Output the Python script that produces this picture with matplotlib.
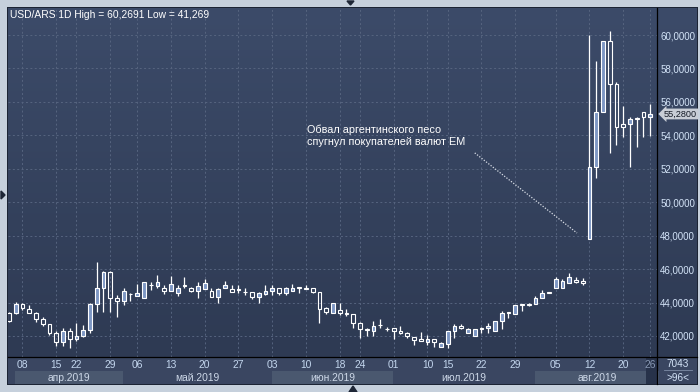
import numpy as np
import matplotlib
matplotlib.use("Agg")
import matplotlib.pyplot as plt
import matplotlib.transforms as mtransforms
from matplotlib.patches import Rectangle, Polygon
from matplotlib.colors import to_rgb

plt.rcParams['font.family'] = ['Liberation Sans', 'DejaVu Sans']

# ---------------- data (USD/ARS daily candles) ----------------
opens = [43.4, 43.4, 43.9, 43.6, 43.36, 43.0, 42.7, 42.16, 41.62, 42.3,
         41.8, 42.0, 42.36, 43.9, 44.9, 45.8, 44.3, 44.1, 44.52, 44.4,
         44.25, 45.05, 45.0, 44.85, 44.7, 44.55, 45.02, 44.85, 44.7, 44.8,
         44.7, 44.35, 44.85, 44.8, 44.8, 44.65, 44.65, 44.35, 44.5, 44.7,
         44.85, 44.6, 44.7, 44.9, 44.85, 44.85, 44.65, 43.65, 43.4, 43.55,
         43.36, 43.3, 42.76, 42.4, 42.32, 42.66, 42.42, 42.45, 42.32, 42.16,
         41.92, 41.8, 41.62, 41.8, 41.32, 41.52, 42.3, 42.62, 42.16, 42.0,
         42.44, 42.45, 42.3, 42.9, 43.4, 43.3, 43.9, 43.88, 43.9, 44.3,
         44.6, 44.85, 44.9, 45.15, 45.35, 45.3, 47.8, 52.1, 55.38, 59.64,
         57.05, 54.66, 54.66, 55.02, 55.38, 55.08]
highs = [43.45, 44.05, 44.0, 43.85, 43.45, 43.15, 42.72, 42.3, 42.45, 42.45,
         42.8, 42.65, 44.0, 46.45, 45.9, 45.9, 44.45, 44.9, 44.6, 45.1,
         45.2, 45.2, 45.65, 45.05, 45.6, 45.05, 45.5, 44.95, 45.2, 45.4,
         44.9, 44.9, 45.3, 45.05, 45.05, 44.85, 44.65, 44.65, 45.05, 45.05,
         44.9, 44.95, 45.1, 44.92, 45.05, 44.85, 44.65, 43.75, 43.95, 44.0,
         43.6, 43.3, 42.85, 42.5, 42.9, 43.0, 42.55, 42.45, 42.6, 42.25,
         41.92, 42.25, 42.05, 41.85, 41.66, 42.3, 42.7, 42.7, 42.5, 42.42,
         42.55, 42.75, 42.9, 43.5, 43.42, 43.85, 43.92, 43.98, 44.38, 44.75,
         44.6, 45.5, 45.4, 45.75, 45.55, 45.45, 60.0, 58.45, 59.64, 60.27,
         57.2, 55.75, 55.1, 55.1, 55.38, 55.85]
lows = [42.85, 43.3, 43.55, 43.35, 42.85, 42.6, 42.06, 41.4, 41.4, 41.28,
        41.7, 41.95, 42.16, 43.46, 43.46, 43.46, 43.15, 43.85, 44.1, 44.4,
        44.25, 44.75, 44.9, 44.5, 44.7, 44.4, 44.85, 44.65, 44.3, 44.8,
        44.35, 43.95, 44.85, 44.65, 44.6, 44.45, 44.2, 44.0, 44.45, 44.45,
        44.45, 44.45, 44.7, 44.6, 44.8, 44.55, 42.76, 43.3, 43.35, 43.25,
        43.2, 42.5, 41.9, 42.0, 42.0, 42.5, 42.3, 41.8, 42.1, 41.9,
        41.46, 41.7, 41.46, 41.36, 41.32, 41.27, 41.9, 42.4, 42.16, 42.0,
        42.16, 42.16, 42.3, 42.4, 43.05, 43.3, 43.5, 43.8, 43.9, 44.3,
        44.6, 44.85, 44.9, 45.15, 45.15, 45.05, 47.8, 51.47, 55.38, 52.96,
        53.42, 53.92, 52.09, 53.32, 53.92, 53.95]
closes = [42.9, 43.9, 43.65, 43.36, 43.0, 42.7, 42.16, 41.62, 42.3, 41.8,
          42.0, 42.36, 43.9, 44.9, 45.8, 44.3, 44.1, 44.7, 44.5, 44.6,
          45.2, 45.03, 45.2, 44.7, 45.1, 44.9, 45.0, 44.7, 45.0, 45.15,
          44.35, 44.8, 45.05, 44.65, 44.75, 44.63, 44.35, 44.55, 44.7, 44.85,
          44.6, 44.85, 44.9, 44.88, 44.83, 44.65, 43.6, 43.45, 43.95, 43.4,
          43.34, 42.76, 42.4, 42.38, 42.62, 42.64, 42.4, 42.3, 42.16, 42.0,
          41.76, 41.7, 41.8, 41.66, 41.56, 42.3, 42.62, 42.45, 42.4, 42.42,
          42.42, 42.62, 42.9, 43.4, 43.38, 43.85, 43.88, 43.86, 44.3, 44.6,
          44.6, 45.38, 45.3, 45.5, 45.25, 45.15, 52.1, 55.38, 59.64, 57.05,
          54.52, 54.52, 54.98, 55.0, 55.08, 55.28]

day_tick_idx = [2, 7, 10, 15, 19, 24, 29, 34, 39, 44, 49, 52, 57, 62, 65,
                70, 75, 81, 86, 91, 95]
day_labels = ['08', '15', '22', '29', '06', '13', '20', '27', '03', '10', '18',
              '24', '01', '10', '15', '22', '29', '05', '12', '20', '26']
month_labels = ['апр.2019', 'май.2019', 'июн.2019', 'июл.2019', 'авг.2019']
month_start = [0.9, 16.9, 38.9, 56.9, 77.9]
month_end = [16.9, 38.9, 56.9, 77.9, 96.3]
month_band = [True, False, True, False, True]
y_ticks = [42, 44, 46, 48, 50, 52, 54, 56, 58, 60]

title = 'USD/ARS 1D High = 60,2691 Low = 41,269'
note = 'Обвал аргентинского песо\nспугнул покупателей валют EM'
note_pos = (44.15, 53.96)
note_line = ((69.0, 52.95), (84.15, 48.16))
bars_visible = '>96<'
volume_txt = '7043'

# ---------------- figure ----------------
W, H = 700, 392
fig = plt.figure(figsize=(7, 3.92), dpi=100, facecolor='#c6d0dc')

bg = fig.add_axes([0, 0, 1, 1], zorder=0)
bg.set_xlim(0, W)
bg.set_ylim(H, 0)
bg.axis('off')

bg.add_patch(Rectangle((7, 7), 691, 378, facecolor='#1c2434', edgecolor='none'))
top_c = np.array(to_rgb('#3c4b69'))
bot_c = np.array(to_rgb('#2e3a53'))
t = np.linspace(0, 1, 200)[:, None]
grad = (top_c[None, :] * (1 - t) + bot_c[None, :] * t)[:, None, :]
bg.imshow(grad, extent=[8, 697, 357, 8], aspect='auto', interpolation='bilinear', zorder=1)
bg.add_patch(Rectangle((8, 357), 689, 27, facecolor='#3a4661', edgecolor='none', zorder=2))
bg.set_xlim(0, W)
bg.set_ylim(H, 0)

# main axes
ax = fig.add_axes([8 / W, 1 - 357 / H, 649 / W, 349 / H], zorder=2)
ax.set_facecolor('none')
n = len(opens)
x = np.arange(n)
O = np.array(opens); Hh = np.array(highs); L = np.array(lows); C = np.array(closes)
top = np.maximum(O, C)
bot = np.minimum(O, C)
up = C > O

ax.vlines(x, top, Hh, color='white', lw=0.9, zorder=3)
ax.vlines(x, L, bot, color='white', lw=0.9, zorder=3)
heights = np.maximum(top - bot, 0.03)
ax.bar(x[up], heights[up], bottom=bot[up], width=0.58, color='#7d97c4',
       edgecolor='white', linewidth=0.8, zorder=4)
ax.bar(x[~up], heights[~up], bottom=bot[~up], width=0.58, color='none',
       edgecolor='white', linewidth=0.8, zorder=4)

ax.set_xlim(-0.148, 96.0)
ax.set_ylim(40.744, 61.617)

ax.set_xticks(day_tick_idx)
ax.set_xticklabels(day_labels)
ax.set_yticks(y_ticks)
ax.set_yticklabels([f'{v},0000' for v in y_ticks])
ax.yaxis.tick_right()
ax.tick_params(axis='x', length=0, pad=2.5, labelsize=7.4, labelcolor='#c3d6ee')
ax.tick_params(axis='y', length=0, pad=2.2, labelsize=7.0, labelcolor='#d3e3f7')
ax.get_xticklabels()[-1].set_color('#8797b3')
ax.grid(True, color='#56647f', linestyle=(0, (2, 2.5)), linewidth=0.7, zorder=1)
ax.set_axisbelow(True)
for s in ax.spines.values():
    s.set_visible(False)

# annotation
ax.text(note_pos[0], note_pos[1], note, color='white', fontsize=7.8,
        va='center', ha='left', linespacing=1.2, zorder=5)
ax.plot([note_line[0][0], note_line[1][0]], [note_line[0][1], note_line[1][1]],
        color='#d8dde6', lw=0.9, linestyle=(0, (1, 1.3)), zorder=5)

# bottom panel: month bands
blend = mtransforms.blended_transform_factory(ax.transData, bg.transData)
for lab, s0, s1, band in zip(month_labels, month_start, month_end, month_band):
    if band:
        bg.add_patch(Rectangle((s0, 371), s1 - s0, 13, transform=blend,
                               facecolor='#4a586f', edgecolor='none', zorder=3))
    bg.text((s0 + s1) / 2, 377.8, lab, transform=blend, ha='center', va='center',
            fontsize=7.4, color='#cdd8e8', zorder=4)
bg.add_patch(Rectangle((94.3, 357), 96.0 - 94.3, 27, transform=blend,
                       facecolor='#27324a', edgecolor='none', zorder=5))

# overlay: separators, title, price label, UI marks
ov = fig.add_axes([0, 0, 1, 1], zorder=5)
ov.set_facecolor('none')
ov.set_xlim(0, W)
ov.set_ylim(H, 0)
ov.axis('off')
ov.plot([657, 657], [8, 384], color='black', lw=0.9)
ov.plot([8, 697], [357, 357], color='black', lw=0.9)
ov.plot([664, 692], [370.3, 370.3], color='#7d8ca6', lw=0.6)
ov.text(678, 363.8, volume_txt, ha='center', va='center', fontsize=7.2, color='#d3e3f7')
ov.text(678, 377.8, bars_visible, ha='center', va='center', fontsize=7.2, color='#d3e3f7')
ov.text(10, 14.5, title, color='white', fontsize=7.4, va='center', ha='left')

pblend = mtransforms.blended_transform_factory(ov.transData, ax.transData)
ov.text(664, closes[-1], f'{closes[-1]:.4f}'.replace('.', ','), transform=pblend,
        ha='left', va='center', fontsize=6.6, color='#141a26',
        bbox=dict(boxstyle='larrow,pad=0.1', fc='#c8cdd6', ec='none'))

ov.add_patch(Polygon([[347, 1], [354, 1], [350.5, 5]], closed=True, color='#1e2636'))
ov.add_patch(Polygon([[1, 191], [1, 199], [5, 195]], closed=True, color='#1e2636'))
ov.add_patch(Polygon([[349, 392], [357, 392], [353, 386]], closed=True, color='#1e2636'))

fig.savefig('out.png', dpi=100, facecolor=fig.get_facecolor())
